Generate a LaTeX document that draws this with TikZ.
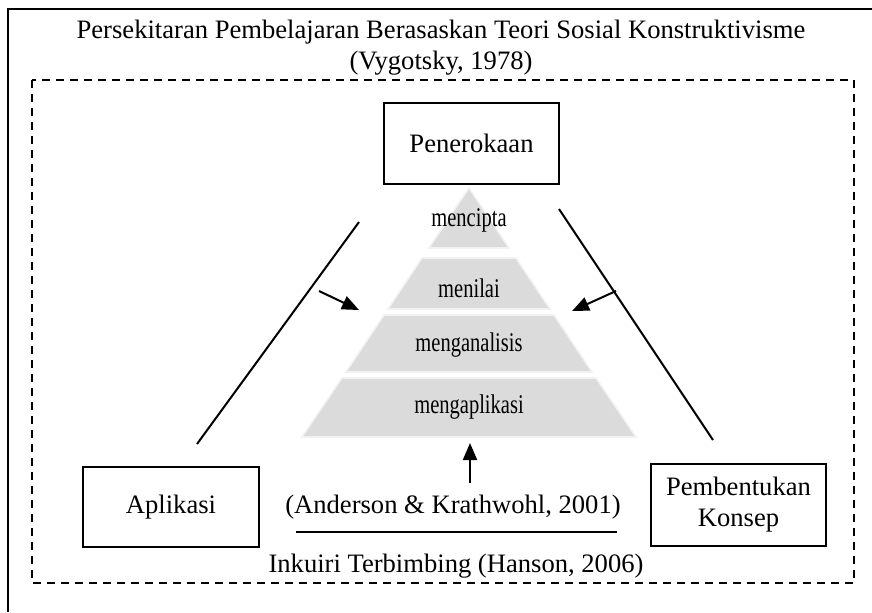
\documentclass[tikz,border=0pt]{standalone}
\usepackage{fontspec}
\setmainfont{Liberation Serif}
\usepackage{graphicx}
\usetikzlibrary{arrows.meta}

\tikzset{
  kotak/.style={draw, line width=1pt, inner sep=0pt, align=center},
  lapis/.style={fill=gray!28, draw=gray!10, line width=0.8pt},
  tajuklapis/.style={font=\fontsize{13.5}{15}\selectfont},
  anak/.style={-{Triangle[length=8.5pt,width=7pt]}, line width=1pt},
}

\begin{document}
\begin{tikzpicture}[x=0.5pt, y=-0.5pt, font=\fontsize{13.3}{15.5}\selectfont]
				\useasboundingbox (0,0) rectangle (872,612);

				% bingkai luar
				\draw[line width=1pt] (8,612) -- (8,9) -- (872,9);

				% tajuk
				\node (tajuk) at (441,48) [align=center] {Persekitaran Pembelajaran Berasaskan Teori Sosial Konstruktivisme\\(Vygotsky, 1978)};

				% kawasan inkuiri
				\draw[line width=1pt, dash pattern=on 4pt off 3pt] (32,80) rectangle (854,583);

				% kotak fasa
				\node[kotak, minimum width=87.5pt, minimum height=40.5pt] (penerokaan) at (471.5,143.5) {Penerokaan};
				\node[kotak, minimum width=88pt, minimum height=40pt] (aplikasi) at (171,507) {Aplikasi};
				\node[kotak, minimum width=87.5pt, minimum height=41pt] (konsep) at (738.5,505) {Pembentukan\\Konsep};

				% piramid
				\draw[lapis] (469,188) -- (509,248) -- (429,248) -- cycle;
				\draw[lapis] (422,258) -- (516,258) -- (550,309) -- (388,309) -- cycle;
				\draw[lapis] (384,315) -- (554,315) -- (592,372) -- (346,372) -- cycle;
				\draw[lapis] (342,378) -- (596,378) -- (636,437) -- (302,437) -- cycle;

				\node[tajuklapis] (mencipta) at (469,220) {\scalebox{0.76}[1]{mencipta}};
				\node[tajuklapis] (menilai) at (469,288) {\scalebox{0.76}[1]{menilai}};
				\node[tajuklapis] (menganalisis) at (469,345) {\scalebox{0.76}[1]{menganalisis}};
				\node[tajuklapis] (mengaplikasi) at (469,407) {\scalebox{0.76}[1]{mengaplikasi}};

				% garis kitaran
				\coordinate (kiri atas) at (359,222);
				\coordinate (kiri bawah) at (197,444);
				\coordinate (kanan atas) at (559,209);
				\coordinate (kanan bawah) at (713,440);
				\draw[line width=1pt] (kiri atas) -- (kiri bawah);
				\draw[line width=1pt] (kanan atas) -- (kanan bawah);

				% anak panah ke piramid
				\coordinate (dari kiri) at (319,291);
				\coordinate (ke kiri) at (359,310);
				\coordinate (dari kanan) at (616,291);
				\coordinate (ke kanan) at (572,311);
				\coordinate (dari bawah) at (470,483);
				\coordinate (ke bawah) at (470,443);
				\draw[anak] (dari kiri) -- (ke kiri);
				\draw[anak] (dari kanan) -- (ke kanan);
				\draw[anak] (dari bawah) -- (ke bawah);

				% rujukan
				\node (anderson) at (453,507) {(Anderson \& Krathwohl, 2001)};
				\coordinate (garis kiri) at (296,532);
				\coordinate (garis kanan) at (617,532);
				\draw[line width=1pt] (garis kiri) -- (garis kanan);
				\node (hanson) at (456,566) {Inkuiri Terbimbing (Hanson, 2006)};
			\end{tikzpicture}
\end{document}
